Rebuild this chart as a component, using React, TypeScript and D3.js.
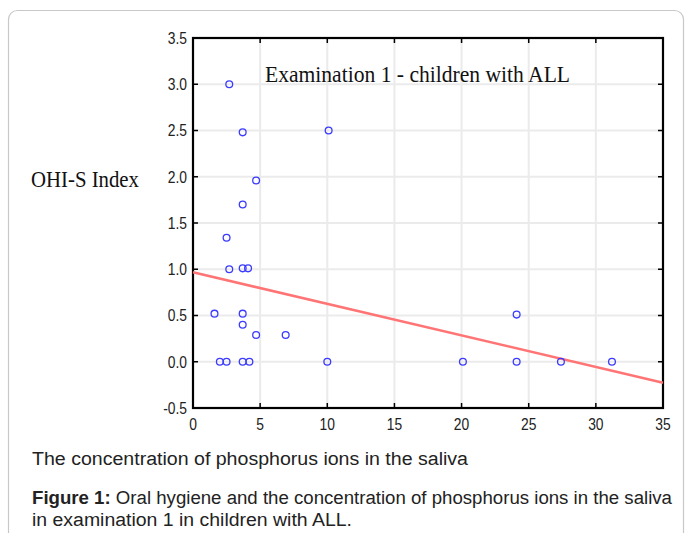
import React, { useEffect } from 'react';
import * as d3 from 'd3';

// phosphorus ions in saliva (x) vs OHI-S index (y), examination 1
const phosphorus = [2.7, 3.7, 10.1, 4.7, 3.7, 2.5, 2.7, 3.7, 4.1, 1.6, 3.7, 3.7, 4.7, 6.9, 2.0, 2.5, 3.7, 4.2, 10.0, 20.1, 24.1, 24.1, 27.4, 31.2];
const ohis = [3.0, 2.48, 2.5, 1.96, 1.7, 1.34, 1.0, 1.01, 1.01, 0.52, 0.52, 0.4, 0.29, 0.29, 0, 0, 0, 0, 0, 0, 0, 0.51, 0, 0];
const xTicks = [0, 5, 10, 15, 20, 25, 30, 35];
const yTicks = [-0.5, 0, 0.5, 1, 1.5, 2, 2.5, 3, 3.5];
const fitIntercept = 0.967;
const fitSlope = -0.0341;

const W = 685, H = 533;
const left = 193, right = 663, top = 38, bottom = 408;
const sans = '"Liberation Sans", Arial, sans-serif';
const serif = '"Liberation Serif", "Times New Roman", serif';

export default function App() {
  useEffect(() => {
    document.body.style.margin = '0';
  }, []);

  const x = d3.scaleLinear().domain([0, 35]).range([left, right]);
  const y = d3.scaleLinear().domain([-0.5, 3.5]).range([bottom, top]);
  // plain hyphen for negatives, like the original
  const fmt = (v: number) => d3.format('.1f')(v).replace('\u2212', '-');
  const points = phosphorus.map((p, i) => ({ p, o: ohis[i] }));
  const fit = d3.line<number>()
    .x(d => x(d))
    .y(d => y(fitIntercept + fitSlope * d));

  return (
    <svg width={W} height={H} style={{ display: 'block', background: '#fff' }}>
      <rect x={8.5} y={10.5} width={675} height={560} rx={9} fill="none" stroke="#c8c8c8" strokeWidth={1.2} />

      {/* grid */}
      {xTicks.slice(1, -1).map(t => (
        <line key={'gx' + t} x1={x(t)} x2={x(t)} y1={top} y2={bottom} stroke="#ebebeb" strokeWidth={2} />
      ))}
      {yTicks.slice(1, -1).map(t => (
        <line key={'gy' + t} x1={left} x2={right} y1={y(t)} y2={y(t)} stroke="#ebebeb" strokeWidth={2} />
      ))}

      {/* ticks, pointing inward on all four sides */}
      {xTicks.map(t => (
        <g key={'tx' + t}>
          <line x1={x(t)} x2={x(t)} y1={bottom} y2={bottom - 5} stroke="#000" strokeWidth={1.5} />
          <line x1={x(t)} x2={x(t)} y1={top} y2={top + 5} stroke="#000" strokeWidth={1.5} />
          <g transform={`translate(${x(t)},${bottom + 22}) scale(0.84,1)`}>
            <text textAnchor="middle" fontFamily={sans} fontSize={16.5} fill="#222">{t}</text>
          </g>
        </g>
      ))}
      {yTicks.map(t => (
        <g key={'ty' + t}>
          <line x1={left} x2={left + 5} y1={y(t)} y2={y(t)} stroke="#000" strokeWidth={1.5} />
          <line x1={right} x2={right - 5} y1={y(t)} y2={y(t)} stroke="#000" strokeWidth={1.5} />
          <g transform={`translate(${left - 6},${y(t)}) scale(0.84,1)`}>
            <text textAnchor="end" dy="0.36em" fontFamily={sans} fontSize={16.5} fill="#222">{fmt(t)}</text>
          </g>
        </g>
      ))}

      <rect x={left} y={top} width={right - left} height={bottom - top} fill="none" stroke="#000" strokeWidth={2.2} />

      <path d={fit([0, 35]) || ''} fill="none" stroke="#ff7474" strokeWidth={2.5} />

      {points.map((d, i) => (
        <circle key={i} cx={x(d.p)} cy={y(d.o)} r={3.4} fill="none" stroke="#3b3bff" strokeWidth={1.3} />
      ))}

      <text x={265} y={82} fontFamily={serif} fontSize={24} textLength={305} lengthAdjust="spacingAndGlyphs" fill="#111">
        Examination 1 - children with ALL
      </text>
      <text x={31} y={187} fontFamily={serif} fontSize={24} textLength={108} lengthAdjust="spacingAndGlyphs" fill="#111">
        OHI-S Index
      </text>

      <text x={32} y={465} fontFamily={sans} fontSize={18} textLength={436} lengthAdjust="spacingAndGlyphs" fill="#222">
        The concentration of phosphorus ions in the saliva
      </text>
      <text x={32} y={504} fontFamily={sans} fontSize={18} textLength={640} lengthAdjust="spacingAndGlyphs" fill="#222">
        <tspan fontWeight="bold">Figure 1:</tspan> Oral hygiene and the concentration of phosphorus ions in the saliva
      </text>
      <text x={32} y={526} fontFamily={sans} fontSize={18} textLength={320} lengthAdjust="spacingAndGlyphs" fill="#222">
        in examination 1 in children with ALL.
      </text>
    </svg>
  );
}
